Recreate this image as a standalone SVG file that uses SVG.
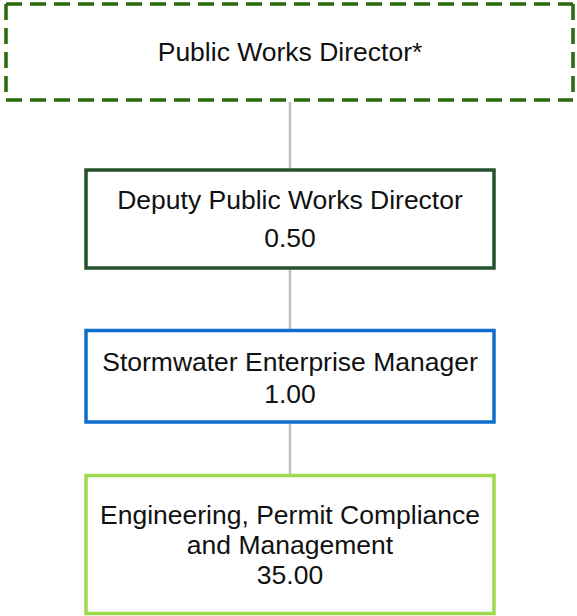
<svg xmlns="http://www.w3.org/2000/svg" width="577" height="616" viewBox="0 0 577 616">
<style>
text{font-family:"Liberation Sans",Arial,sans-serif;font-size:26.5px;fill:#111;text-anchor:middle}
.dash{stroke:#2b6a0c;stroke-width:3.5;stroke-dasharray:16 8;fill:none}
.box{fill:#fff;stroke-width:3.5}
.conn{stroke:#bdbdbd;stroke-width:2.5;fill:none}
</style>
<rect width="577" height="616" fill="#fff"/>
<g id="connectors">
<line class="conn" x1="290" y1="102" x2="290" y2="170"/>
<line class="conn" x1="290" y1="268" x2="290" y2="330"/>
<line class="conn" x1="290" y1="422" x2="290" y2="476"/>
</g>
<g id="node-director">
<line class="dash" x1="6" y1="4" x2="573" y2="4"/>
<line class="dash" x1="6" y1="100" x2="573" y2="100"/>
<line class="dash" x1="6" y1="4" x2="6" y2="100"/>
<line class="dash" x1="573" y1="4" x2="573" y2="100"/>
<text x="290" y="61">Public Works Director*</text>
</g>
<g id="node-deputy">
<rect class="box" x="86" y="170" width="408" height="98" stroke="#26522b"/>
<text x="290" y="209">Deputy Public Works Director</text>
<text x="290" y="247">0.50</text>
</g>
<g id="node-stormwater">
<rect class="box" x="86" y="330.5" width="408" height="91.5" stroke="#0e6fce"/>
<text x="290" y="371">Stormwater Enterprise Manager</text>
<text x="290" y="403">1.00</text>
</g>
<g id="node-engineering">
<rect class="box" x="86" y="475.5" width="408" height="138" stroke="#9fd94c"/>
<text x="290" y="524">Engineering, Permit Compliance</text>
<text x="290" y="554">and Management</text>
<text x="290" y="584">35.00</text>
</g>
</svg>
